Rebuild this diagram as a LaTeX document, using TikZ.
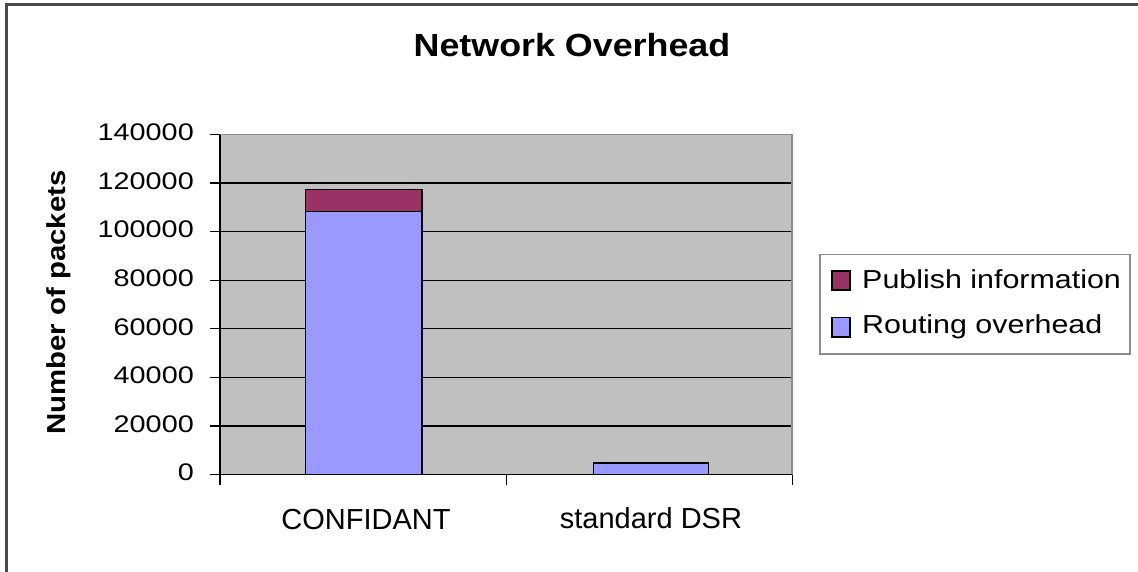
\documentclass[tikz,border=0pt]{standalone}
\usepackage{fontspec}
\setmainfont{Liberation Sans}

\definecolor{plotgray}{HTML}{C0C0C0}
\definecolor{publish}{HTML}{993366}
\definecolor{routing}{HTML}{9999FF}
\definecolor{bordergray}{HTML}{8C8C8C}
\definecolor{chartframe}{HTML}{4A4A4A}

% horizontal stretch of a piece of text
\newcommand\hstretch[2]{\scalebox{#1}[1]{#2}}

\begin{document}
\begin{tikzpicture}[x=1pt,y=-1pt,
  ticklabel/.style={anchor=east,inner sep=0pt,font=\fontsize{24}{24}\selectfont},
  catlabel/.style={anchor=base,inner sep=0pt,font=\fontsize{29}{29}\selectfont},
  legendtext/.style={anchor=base west,inner sep=0pt,font=\fontsize{26}{26}\selectfont},
  swatch/.style={draw=black,line width=1.2pt},
  grid line/.style={black,line width=1.3pt},
  bar outline/.style={draw=black,line width=1.3pt}]

\useasboundingbox (0,0) rectangle (1138,571);
\fill[white] (0,0) rectangle (1138,571);

% chart frame: only its top and left edges lie inside the page
\draw[chartframe,line width=2.6pt] (6.2,580) -- (6.2,4.3) -- (1150,4.3);

% title
\node[anchor=base,inner sep=0pt,font=\fontsize{32}{32}\selectfont\bfseries] (title)
  at (572,56.7) {\hstretch{1.12}{Network Overhead}};

% value axis title
\node[rotate=90,inner sep=0pt,font=\fontsize{26}{26}\selectfont\bfseries] (ytitle)
  at (58.7,302.5) {\hstretch{1.13}{Number of packets}};

% plot area, in units of thousand packets
\begin{scope}[shift={(220,474.5)},x=1pt,y=2.42857pt]
  \fill[plotgray] (0,0) rectangle (572.3,140);
  \foreach \v in {20,40,...,120}
    \draw[grid line] (0,\v) -- (572.3,\v);

  % stacked bars
  \filldraw[fill=routing,bar outline] (85.7,0) rectangle (202,108.4);
  \filldraw[fill=publish,bar outline] (85.7,108.4) rectangle (202,117.4);
  \filldraw[fill=routing,bar outline] (373.3,0) rectangle (488.7,4.75);

  % plot area border
  \draw[bordergray,line width=1.8pt] (0,140) -- (572.3,140) -- (572.3,0);

  % axes and ticks
  \draw[black,line width=1.4pt] (0,-4.4) -- (0,140);
  \draw[black,line width=1.4pt] (0,0) -- (572.3,0);
  \foreach \v in {0,20,...,140}
    \draw[black,line width=1.3pt] (-10,\v) -- (0,\v);
  \foreach \c in {286.2,572.3}
    \draw[black,line width=1.3pt] (\c,0) -- (\c,-4.4);

  % tick labels
  \foreach \v/\t in {0/0,20/20000,40/40000,60/60000,80/80000,100/100000,120/120000,140/140000}
    \node[ticklabel] (tick\v) at (-26,\v+0.8) {\hstretch{1.2}{\t}};
\end{scope}

% category labels
\node[catlabel] (catA) at (366,529.3) {CONFIDANT};
\node[catlabel] (catB) at (651,528.5) {standard DSR};

% legend
\draw[bordergray,line width=1.4pt,fill=white] (820,254.3) rectangle (1130,354);
\filldraw[fill=publish,swatch] (832,271) rectangle (850,290);
\filldraw[fill=routing,swatch] (832,317.5) rectangle (850,337);
\node[legendtext] (legA) at (862,288.3) {\hstretch{1.17}{Publish information}};
\node[legendtext] (legB) at (862,333) {\hstretch{1.17}{Routing overhead}};

\end{tikzpicture}
\end{document}
